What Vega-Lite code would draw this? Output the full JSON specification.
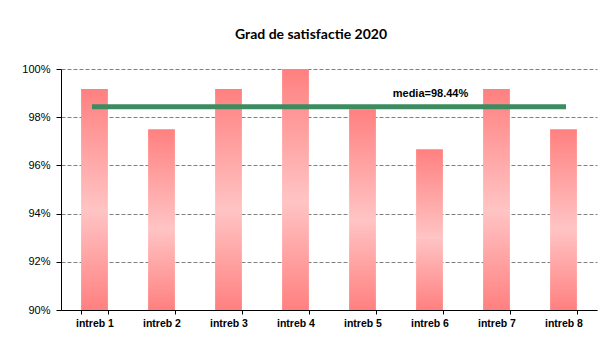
{
  "$schema": "https://vega.github.io/schema/vega-lite/v6.json",
  "autosize": {"type": "none"},
  "width": 536,
  "height": 241,
  "padding": {"left": 61, "top": 69, "right": 17, "bottom": 42},
  "background": "white",
  "title": {
    "text": "Grad de satisfactie 2020",
    "font": "Lato",
    "fontSize": 14,
    "fontWeight": "bold",
    "color": "#000000",
    "anchor": "middle",
    "frame": "group",
    "dx": -18,
    "offset": 21
  },
  "data": {
    "values": [
      {"intrebare": "intreb 1", "valoare": 0.9917},
      {"intrebare": "intreb 2", "valoare": 0.975},
      {"intrebare": "intreb 3", "valoare": 0.9917},
      {"intrebare": "intreb 4", "valoare": 1.0},
      {"intrebare": "intreb 5", "valoare": 0.9833},
      {"intrebare": "intreb 6", "valoare": 0.9667},
      {"intrebare": "intreb 7", "valoare": 0.9917},
      {"intrebare": "intreb 8", "valoare": 0.975}
    ]
  },
  "encoding": {
    "x": {
      "field": "intrebare",
      "type": "nominal",
      "sort": null,
      "scale": {"paddingInner": 0.6, "paddingOuter": 0.3},
      "axis": {
        "title": null,
        "labelAngle": 0,
        "labelFont": "Liberation Sans",
        "labelFontSize": 10.5,
        "labelFontWeight": "bold",
        "labelColor": "#000000",
        "labelPadding": 4,
        "tickBand": "extent",
        "tickSize": 4,
        "tickColor": "#000000",
        "domainColor": "#000000",
        "grid": false
      }
    }
  },
  "layer": [
    {
      "mark": {
        "type": "bar",
        "fill": {
          "gradient": "linear",
          "x1": 0, "y1": 0, "x2": 0, "y2": 1,
          "stops": [
            {"offset": 0, "color": "#ff8080"},
            {"offset": 0.55, "color": "#ffc4c4"},
            {"offset": 1, "color": "#ff8080"}
          ]
        }
      },
      "encoding": {
        "y": {
          "field": "valoare",
          "type": "quantitative",
          "scale": {"domain": [0.9, 1.0], "zero": false, "nice": false},
          "axis": {
            "title": null,
            "values": [0.9, 0.92, 0.94, 0.96, 0.98, 1.0],
            "format": ".0%",
            "labelFont": "Liberation Sans",
            "labelFontSize": 11,
            "labelColor": "#000000",
            "labelPadding": 6,
            "tickSize": 5,
            "tickColor": "#000000",
            "domainColor": "#000000",
            "grid": true,
            "gridColor": "#808080",
            "gridDash": [4, 2],
            "gridWidth": 1
          }
        },
        "y2": {"datum": 0.9}
      }
    },
    {
      "transform": [
        {"joinaggregate": [{"op": "mean", "field": "valoare", "as": "media"}]}
      ],
      "mark": {"type": "line", "color": "#3c8c5f", "strokeWidth": 5, "strokeCap": "square"},
      "encoding": {
        "y": {"field": "media", "type": "quantitative"}
      }
    },
    {
      "data": {"values": [{"intrebare": "intreb 6", "media": 0.9844, "eticheta": "media=98.44%"}]},
      "mark": {
        "type": "text",
        "font": "Liberation Sans",
        "fontSize": 11,
        "fontWeight": "bold",
        "color": "#000000",
        "baseline": "alphabetic",
        "dx": 1,
        "dy": -10
      },
      "encoding": {
        "y": {"field": "media", "type": "quantitative"},
        "text": {"field": "eticheta"}
      }
    }
  ],
  "config": {
    "view": {"stroke": null}
  }
}
